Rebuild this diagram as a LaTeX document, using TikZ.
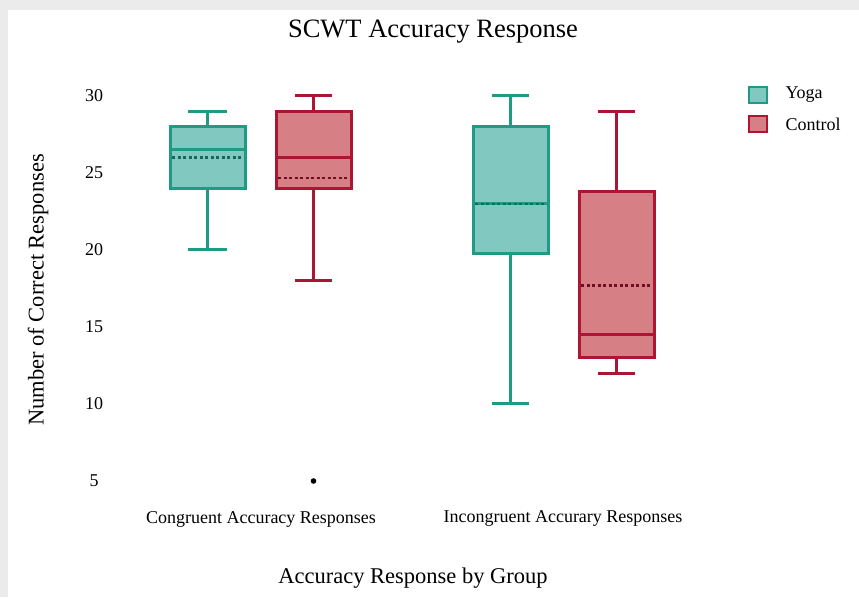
\documentclass[tikz,border=0pt]{standalone}
\usepackage{fontspec}
\setmainfont{Liberation Serif}
\definecolor{yogaline}{RGB}{30,155,130}
\definecolor{yogafill}{RGB}{128,200,192}
\definecolor{yogadark}{RGB}{20,105,90}
\definecolor{ctrlline}{RGB}{170,22,52}
\definecolor{ctrlfill}{RGB}{214,128,134}
\definecolor{ctrldark}{RGB}{110,15,35}
\begin{document}
\begin{tikzpicture}[x=1pt,y=1pt,font=\fontsize{18}{20}\selectfont,
	yoga/.style={draw=yogaline, line width=3pt},
	ctrl/.style={draw=ctrlline, line width=3pt},
	yogamean/.style={draw=yogadark, line width=2.2pt, dash pattern=on 3pt off 2.5pt},
	ctrlmean/.style={draw=ctrldark, line width=2.2pt, dash pattern=on 3pt off 2.5pt},
	ticklabel/.style={font=\fontsize{18}{20}\selectfont},
	axislabel/.style={font=\fontsize{22.5}{25}\selectfont}]
	% page frame
	\fill[black!8] (0,0) rectangle (859,597);
	\fill[white] (8,0) rectangle (859,587);
	\useasboundingbox (0,0) rectangle (859,597);

	\node[font=\fontsize{26.5}{29}\selectfont] (title) at (433,565) {SCWT Accuracy Response};

	\begin{scope}[yshift=39pt, y=15.4pt]
		% Yoga, congruent
		\draw[yoga, fill=yogafill] (170,24) rectangle (245,28);
		\draw[yoga] (207.5,28) -- (207.5,29) (188,29) -- (227,29);
		\draw[yoga] (207.5,24) -- (207.5,20) (188,20) -- (227,20);
		\draw[yoga] (170,26.5) -- (245,26.5);
		\draw[yogamean] (172,26) -- (243,26);
		% Control, congruent
		\draw[ctrl, fill=ctrlfill] (276,24) rectangle (351,29);
		\draw[ctrl] (313.5,29) -- (313.5,30) (295,30) -- (332,30);
		\draw[ctrl] (313.5,24) -- (313.5,18) (295,18) -- (332,18);
		\draw[ctrl] (276,26) -- (351,26);
		\draw[ctrlmean] (278,24.7) -- (349,24.7);
		\fill (313.5,5) circle (2.8pt);
		% Yoga, incongruent
		\draw[yoga, fill=yogafill] (473,19.8) rectangle (548,28);
		\draw[yoga] (510.5,28) -- (510.5,30) (492,30) -- (529,30);
		\draw[yoga] (510.5,19.8) -- (510.5,10) (492,10) -- (529,10);
		\draw[yoga] (473,23) -- (548,23);
		\draw[yogamean] (475,23) -- (546,23);
		% Control, incongruent
		\draw[ctrl, fill=ctrlfill] (579,13) rectangle (654,23.8);
		\draw[ctrl] (616.5,23.8) -- (616.5,29) (598,29) -- (635,29);
		\draw[ctrl] (616.5,13) -- (616.5,12) (598,12) -- (635,12);
		\draw[ctrl] (579,14.5) -- (654,14.5);
		\draw[ctrlmean] (581,17.7) -- (652,17.7);

		\foreach \v in {5,10,...,30}
			\node[ticklabel] (tick\v) at (94,\v) {\v};
	\end{scope}

	\node[axislabel, rotate=90] (ylabel) at (38,307) {Number of Correct Responses};
	\node[ticklabel] (congruent) at (261,78) {Congruent Accuracy Responses};
	\node[ticklabel] (incongruent) at (563,78) {Incongruent Accurary Responses};
	\node[axislabel] (xlabel) at (413,19) {Accuracy Response by Group};

	% legend
	\draw[yogaline, fill=yogafill, line width=2pt] (749,494) rectangle (767,510);
	\draw[ctrlline, fill=ctrlfill, line width=2pt] (749,465) rectangle (767,481);
	\node[ticklabel, anchor=west] (yogakey) at (782,502) {Yoga};
	\node[ticklabel, anchor=west] (ctrlkey) at (782,473) {Control};
\end{tikzpicture}
\end{document}
